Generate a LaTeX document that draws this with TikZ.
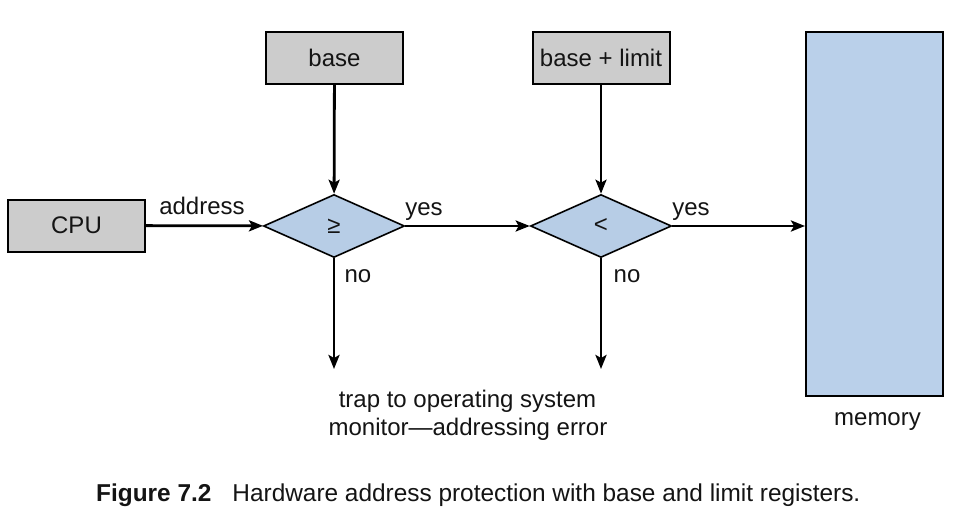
\documentclass[tikz,border=0pt]{standalone}
\usepackage{fontspec}
\setmainfont{Liberation Sans}
\usetikzlibrary{arrows.meta,shapes.geometric}
\definecolor{boxgray}{RGB}{204,204,204}
\definecolor{dblue}{RGB}{183,205,230}
\definecolor{mblue}{RGB}{186,208,234}
\definecolor{ink}{RGB}{20,20,20}
\begin{document}
\begin{tikzpicture}[x=1pt,y=-1pt, font=\fontsize{24}{28}\selectfont, text=ink,
  reg/.style={draw=black, line width=2pt, fill=boxgray, minimum width=137pt, minimum height=52pt, inner sep=0pt},
  cmp/.style={diamond, draw=black, line width=1.6pt, fill=dblue, minimum width=141pt, minimum height=63pt, inner sep=0pt},
  conn/.style={line width=2.8pt, draw=black, -{Stealth[length=14pt,width=11pt,inset=3pt]}},
  lbl/.style={anchor=base, inner sep=0pt}]
\useasboundingbox (0,0) rectangle (959,530);
\fill[white] (0,0) rectangle (959,530);
% registers and CPU
\node[reg] (cpu)  at (76.5,225.5) {CPU};
\node[reg] (base) at (334.5,58) {base};
\node[reg] (bl)   at (601,58) {base + limit};
% comparators
\node[cmp] (ge) at (334,226) {≥};
\node[cmp] (lt) at (601,226) {<};
% memory
\node[draw=black, line width=2pt, fill=mblue, minimum width=137pt, minimum height=364pt, inner sep=0pt] (mem) at (874.5,214) {};
\node[lbl] (memlbl) at (877.5,425) {memory};
% trap ends
\coordinate (t1) at (334,369);
\coordinate (t2) at (601,369);
% connectors
\draw[conn] (cpu) -- (ge);
\draw[conn] (base) -- (ge);
\draw[conn] (ge) -- (lt);
\draw[conn] (bl) -- (lt);
\draw[conn] (lt.east) -- (lt.east -| mem.west);
\draw[conn] (ge.south) -- (t1);
\draw[conn] (lt.south) -- (t2);
% labels
\node[lbl] (addr) at (202,214) {address};
\node[lbl] (yes1) at (424,215) {yes};
\node[lbl] (yes2) at (691,215) {yes};
\node[lbl] (no1)  at (358,282) {no};
\node[lbl] (no2)  at (627,282) {no};
\node[lbl] (trapa) at (467.5,407) {trap to operating system};
\node[lbl] (trapb) at (468,435) {monitor—addressing error};
% caption
\node[anchor=base west, inner sep=0pt, font=\fontsize{24.4}{28}\selectfont] (cap) at (96,501) {\textbf{Figure 7.2}\hspace{21pt}Hardware address protection with base and limit registers.};
\end{tikzpicture}
\end{document}
